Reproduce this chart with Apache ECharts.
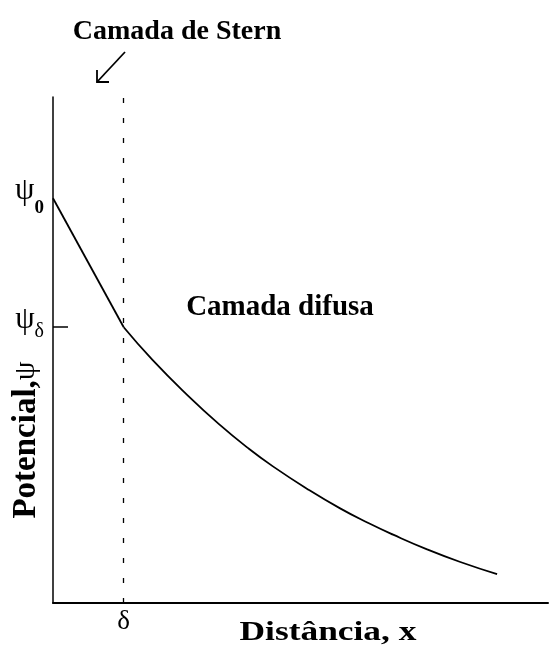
<!DOCTYPE html>
<html>
<head>
<meta charset="utf-8">
<script src="https://cdn.jsdelivr.net/npm/echarts@6/dist/echarts.min.js"></script>
<style>html,body{margin:0;padding:0;background:#fff}#c{width:550px;height:645px}</style>
</head>
<body>
<div id="c"></div>
<script>
// Stern layer: straight segment from psi0 at the surface to psi_delta at x = delta
var sternX = [0, 1];
var sternY = [8, 5.45];
// Diffuse layer: decaying potential beyond delta
var diffuseX = [1, 1.41, 1.9, 2.36, 2.76, 3.11, 3.59, 4.06, 4.46, 4.81, 5.29, 5.76, 6.28];
var diffuseY = [5.45, 4.8, 4.11, 3.52, 3.06, 2.7, 2.26, 1.87, 1.58, 1.35, 1.06, 0.81, 0.57];
// Marked values
var deltaX = 1;
var psi0 = 8;
var psiDelta = 5.45;
var xTickLabels = ['δ'];

var FONT = '"Liberation Serif", "DejaVu Serif", serif';

function pairs(xs, ys) { return xs.map(function (x, i) { return [x, ys[i]]; }); }

var chart = echarts.init(document.getElementById('c'), null, { renderer: 'canvas' });
chart.setOption({
  backgroundColor: '#ffffff',
  animation: false,
  grid: { left: 53, right: 2, top: 97, bottom: 42 },
  xAxis: {
    type: 'value', min: 0, max: 7,
    axisLine: { show: true, onZero: false, lineStyle: { color: '#000', width: 2 } },
    axisTick: { show: false },
    splitLine: { show: false },
    axisLabel: {
      customValues: [deltaX],
      formatter: function () { return xTickLabels[0]; },
      color: '#000', fontFamily: FONT, fontSize: 27, margin: 5
    }
  },
  yAxis: {
    type: 'value', min: 0, max: 10,
    axisLine: { show: true, onZero: false, lineStyle: { color: '#000', width: 1.5 } },
    axisTick: { show: true, inside: true, length: 15, customValues: [psiDelta], lineStyle: { color: '#000', width: 1.5 } },
    splitLine: { show: false },
    axisLabel: {
      customValues: [psi0, psiDelta],
      margin: 9,
      padding: [0, 0, 15, 0],
      formatter: function (v) { return v === psi0 ? '{a|ψ}{b|0}' : '{d|ψ}{c|δ}'; },
      rich: {
        a: { fontFamily: FONT, fontSize: 31, lineHeight: 30, color: '#000', verticalAlign: 'top', padding: [0, 0, 12, 0] },
        b: { fontFamily: FONT, fontSize: 19, lineHeight: 19, fontWeight: 'bold', color: '#000', verticalAlign: 'top', padding: [23, 0, 0, 0] },
        d: { fontFamily: FONT, fontSize: 31, lineHeight: 30, color: '#000', verticalAlign: 'top', padding: [0, 0, 12, 0] },
        c: { fontFamily: FONT, fontSize: 20, lineHeight: 19, color: '#000', verticalAlign: 'top', padding: [17, 0, 0, 0] }
      }
    }
  },
  series: [
    {
      type: 'line', data: pairs(sternX, sternY), symbol: 'none',
      lineStyle: { color: '#000', width: 1.8 }
    },
    {
      type: 'line', data: pairs(diffuseX, diffuseY), symbol: 'none', smooth: true,
      lineStyle: { color: '#000', width: 1.8 },
      markLine: {
        silent: true, symbol: 'none', label: { show: false },
        lineStyle: { color: '#000', type: [5, 15], width: 1.3 },
        data: [{ xAxis: deltaX }]
      }
    }
  ],
  graphic: [
    { type: 'text', x: 177, y: 32, style: { text: 'Camada de Stern', font: 'bold 28px ' + FONT, fill: '#000', textAlign: 'center', textVerticalAlign: 'middle' } },
    { type: 'line', shape: { x1: 125, y1: 52, x2: 97, y2: 82 }, style: { stroke: '#000', lineWidth: 1.8 } },
    { type: 'polyline', shape: { points: [[97, 70], [97, 82], [109, 82]] }, style: { stroke: '#000', lineWidth: 1.8, fill: null } },
    { type: 'text', x: 280, y: 308, style: { text: 'Camada difusa', font: 'bold 29px ' + FONT, fill: '#000', textAlign: 'center', textVerticalAlign: 'middle' } },
    { type: 'text', x: 328, y: 633, scaleX: 1.31, style: { text: 'Distância, x', font: 'bold 27px ' + FONT, fill: '#000', textAlign: 'center', textVerticalAlign: 'middle' } },
    { type: 'text', x: 26, y: 440, rotation: Math.PI / 2, style: {
      text: '{p|Potencial,}{q|ψ}', textAlign: 'center', textVerticalAlign: 'middle',
      rich: {
        p: { font: 'bold 33px ' + FONT, fill: '#000' },
        q: { font: '30px ' + FONT, fill: '#000' }
      }
    } }
  ]
});
</script>
</body>
</html>
